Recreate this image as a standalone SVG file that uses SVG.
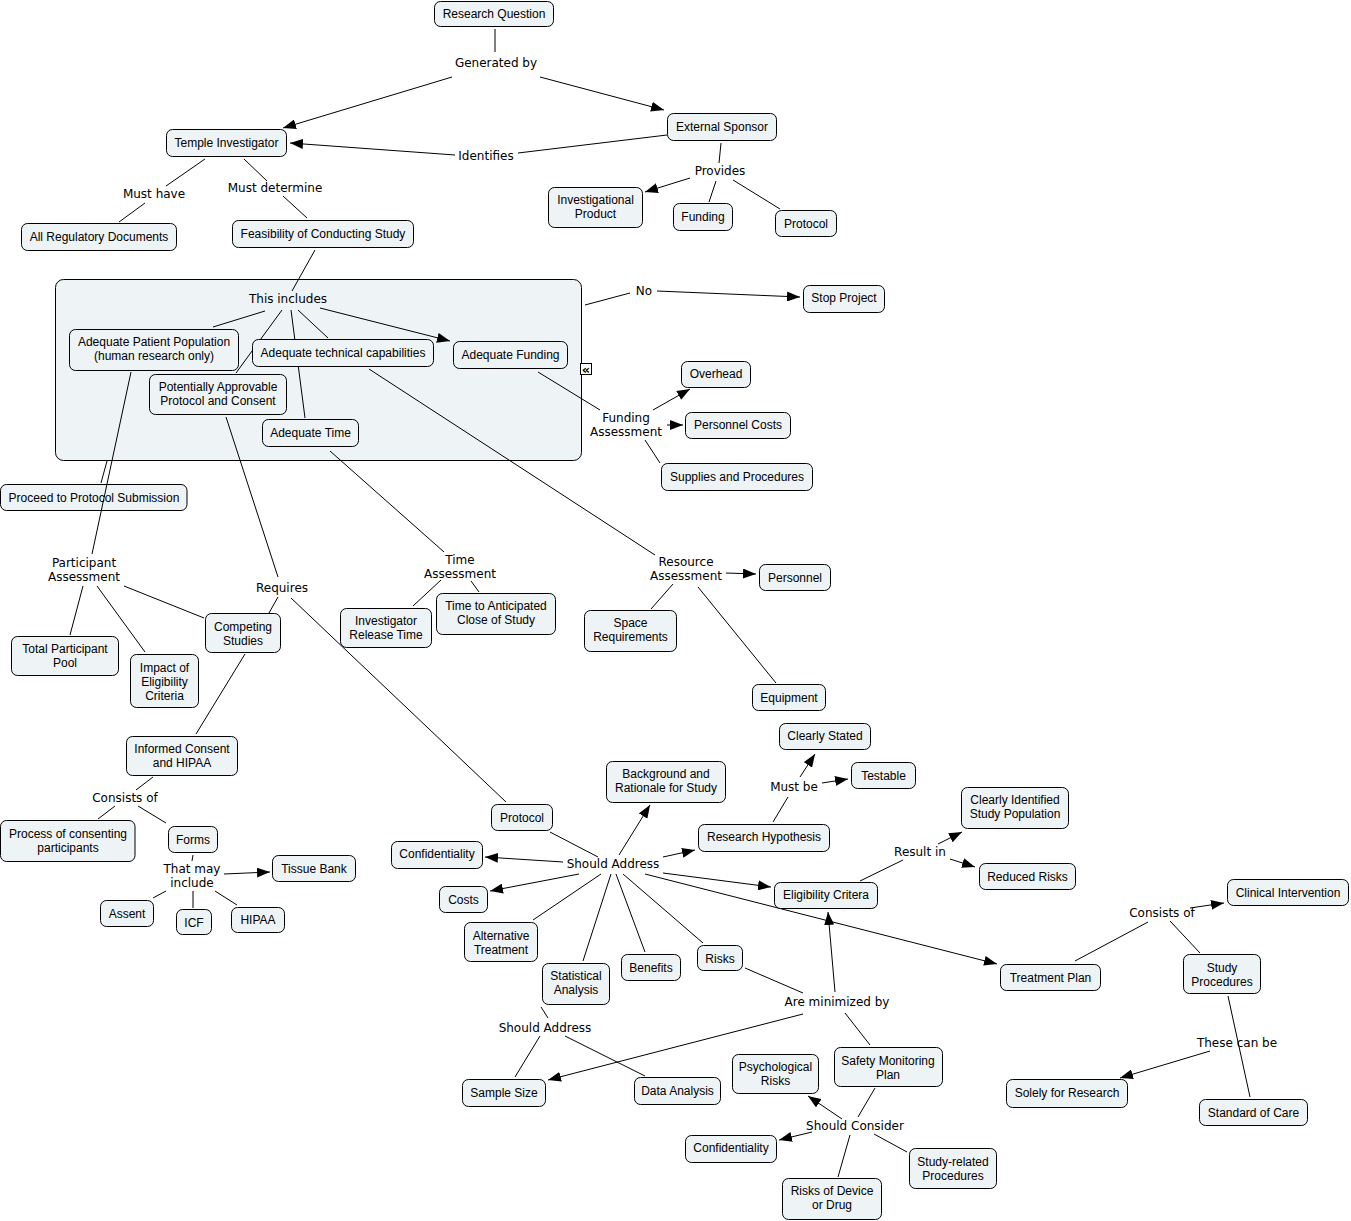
<svg xmlns="http://www.w3.org/2000/svg" width="1351" height="1221" viewBox="0 0 1351 1221">
<style>
.n rect{fill:#eef3f5;stroke:#000;stroke-width:1}
.n text{font-family:"Liberation Sans",Arial,sans-serif;font-size:12px;fill:#000;text-anchor:middle}
.lbl{font-family:"DejaVu Sans",Verdana,sans-serif;font-size:12px;fill:#000;text-anchor:middle}
.c line{stroke:#000;stroke-width:1}
.c line.a{marker-end:url(#ah)}
</style>
<defs>
<marker id="ah" markerUnits="userSpaceOnUse" markerWidth="14" markerHeight="10" refX="13" refY="5" orient="auto">
<path d="M0,0 L13,5 L0,10 z" fill="#000"/>
</marker>
</defs>
<rect width="1351" height="1221" fill="#fff"/>
<g id="container" class="n"><rect x="55.5" y="279.5" width="526" height="181" rx="8"/></g>
<g id="collapse-icon"><rect x="580.5" y="363.5" width="11" height="11" fill="#fff" stroke="#000"/><text x="586" y="373.5" font-family="DejaVu Sans,sans-serif" font-size="13" font-weight="bold" text-anchor="middle">«</text></g>

<g id="connectors" class="c">
<line x1="495" y1="29" x2="495" y2="52"/>
<line class="a" x1="452" y1="77" x2="283" y2="128"/>
<line class="a" x1="540" y1="77" x2="664" y2="110"/>
<line x1="667" y1="135" x2="518" y2="153"/>
<line class="a" x1="455" y1="155" x2="290" y2="143"/>
<line x1="205" y1="159" x2="166" y2="186"/>
<line x1="145" y1="203" x2="119" y2="222"/>
<line x1="244" y1="159" x2="267" y2="181"/>
<line x1="283" y1="196" x2="307" y2="218"/>
<line x1="315" y1="250" x2="292" y2="291"/>
<line x1="265" y1="311" x2="213" y2="327"/>
<line x1="282" y1="310" x2="236" y2="373"/>
<line x1="291" y1="310" x2="305" y2="418"/>
<line x1="298" y1="310" x2="328" y2="338"/>
<line class="a" x1="320" y1="308" x2="450" y2="341"/>
<line x1="585" y1="305" x2="630" y2="293"/>
<line class="a" x1="657" y1="291" x2="800" y2="297"/>
<line x1="538" y1="372" x2="600" y2="410"/>
<line class="a" x1="653" y1="410" x2="690" y2="389"/>
<line class="a" x1="667" y1="425" x2="683" y2="425"/>
<line x1="645" y1="440" x2="660" y2="463"/>
<line x1="369" y1="369" x2="655" y2="555"/>
<line class="a" x1="726" y1="573" x2="756" y2="574"/>
<line x1="673" y1="584" x2="651" y2="609"/>
<line x1="698" y1="587" x2="776" y2="683"/>
<line x1="330" y1="451" x2="444" y2="552"/>
<line x1="441" y1="580" x2="413" y2="606"/>
<line x1="471" y1="581" x2="479" y2="592"/>
<line x1="107" y1="461" x2="101" y2="483"/>
<line x1="226" y1="417" x2="278" y2="577"/>
<line x1="278" y1="597" x2="269" y2="613"/>
<line x1="291" y1="598" x2="506" y2="802"/>
<line x1="83" y1="586" x2="70" y2="635"/>
<line x1="97" y1="586" x2="145" y2="652"/>
<line x1="124" y1="586" x2="204" y2="618"/>
<line x1="245" y1="654" x2="196" y2="734"/>
<line x1="153" y1="777" x2="136" y2="790"/>
<line x1="115" y1="806" x2="98" y2="819"/>
<line x1="138" y1="806" x2="166" y2="823"/>
<line x1="193" y1="855" x2="192" y2="861"/>
<line class="a" x1="224" y1="874" x2="270" y2="872"/>
<line x1="166" y1="891" x2="153" y2="898"/>
<line x1="193" y1="891" x2="193" y2="908"/>
<line x1="215" y1="891" x2="237" y2="905"/>
<line x1="550" y1="832" x2="598" y2="857"/>
<line class="a" x1="619" y1="855" x2="650" y2="805"/>
<line class="a" x1="663" y1="857" x2="695" y2="850"/>
<line class="a" x1="563" y1="862" x2="485" y2="857"/>
<line class="a" x1="579" y1="874" x2="490" y2="891"/>
<line x1="601" y1="874" x2="533" y2="920"/>
<line x1="611" y1="874" x2="583" y2="961"/>
<line x1="616" y1="874" x2="645" y2="952"/>
<line x1="623" y1="874" x2="703" y2="943"/>
<line class="a" x1="663" y1="873" x2="771" y2="887"/>
<line class="a" x1="645" y1="874" x2="997" y2="964"/>
<line x1="773" y1="822" x2="788" y2="797"/>
<line class="a" x1="800" y1="777" x2="815" y2="754"/>
<line class="a" x1="822" y1="783" x2="848" y2="779"/>
<line x1="860" y1="881" x2="903" y2="860"/>
<line class="a" x1="938" y1="844" x2="962" y2="832"/>
<line class="a" x1="950" y1="859" x2="975" y2="867"/>
<line x1="745" y1="968" x2="803" y2="993"/>
<line class="a" x1="835" y1="992" x2="828" y2="912"/>
<line class="a" x1="803" y1="1014" x2="548" y2="1080"/>
<line x1="845" y1="1013" x2="870" y2="1045"/>
<line x1="541" y1="1007" x2="548" y2="1018"/>
<line x1="540" y1="1036" x2="515" y2="1077"/>
<line x1="565" y1="1036" x2="645" y2="1076"/>
<line x1="875" y1="1088" x2="858" y2="1117"/>
<line class="a" x1="842" y1="1119" x2="808" y2="1096"/>
<line class="a" x1="812" y1="1132" x2="779" y2="1140"/>
<line x1="850" y1="1135" x2="838" y2="1177"/>
<line x1="874" y1="1134" x2="907" y2="1152"/>
<line x1="1075" y1="961" x2="1148" y2="922"/>
<line class="a" x1="1190" y1="908" x2="1224" y2="903"/>
<line x1="1170" y1="921" x2="1200" y2="953"/>
<line x1="1228" y1="996" x2="1250" y2="1097"/>
<line class="a" x1="1210" y1="1051" x2="1120" y2="1078"/>
<line x1="721" y1="143" x2="719" y2="163"/>
<line class="a" x1="690" y1="178" x2="645" y2="192"/>
<line x1="716" y1="181" x2="709" y2="202"/>
<line x1="733" y1="180" x2="780" y2="209"/>
</g>

<g id="labels">
<text class="lbl" x="496" y="67">Generated by</text>
<text class="lbl" x="486" y="160">Identifies</text>
<text class="lbl" x="154" y="198">Must have</text>
<text class="lbl" x="275" y="192">Must determine</text>
<text class="lbl" x="720" y="175">Provides</text>
<text class="lbl" x="288" y="303">This includes</text>
<text class="lbl" x="644" y="295">No</text>
<text class="lbl" x="626" y="422">Funding<tspan x="626" dy="14">Assessment</tspan></text>
<text class="lbl" x="84" y="567">Participant<tspan x="84" dy="14">Assessment</tspan></text>
<text class="lbl" x="282" y="592">Requires</text>
<text class="lbl" x="460" y="564">Time<tspan x="460" dy="14">Assessment</tspan></text>
<text class="lbl" x="686" y="566">Resource<tspan x="686" dy="14">Assessment</tspan></text>
<text class="lbl" x="125" y="802">Consists of</text>
<text class="lbl" x="192" y="873">That may<tspan x="192" dy="14">include</tspan></text>
<text class="lbl" x="613" y="868">Should Address</text>
<text class="lbl" x="794" y="791">Must be</text>
<text class="lbl" x="920" y="856">Result in</text>
<text class="lbl" x="837" y="1006">Are minimized by</text>
<text class="lbl" x="1162" y="917">Consists of</text>
<text class="lbl" x="1237" y="1047">These can be</text>
<text class="lbl" x="545" y="1032">Should Address</text>
<text class="lbl" x="855" y="1130">Should Consider</text>
</g>

<g id="n-rq" class="n"><rect x="434.5" y="1.5" width="119" height="25" rx="6"/><text x="494" y="18">Research Question</text></g>
<g id="n-ti" class="n"><rect x="166.5" y="129.5" width="120" height="27" rx="6"/><text x="226.5" y="147">Temple Investigator</text></g>
<g id="n-es" class="n"><rect x="667.5" y="113.5" width="109" height="27" rx="6"/><text x="722" y="131">External Sponsor</text></g>
<g id="n-ard" class="n"><rect x="21.5" y="223.5" width="155" height="27" rx="6"/><text x="99" y="241">All Regulatory Documents</text></g>
<g id="n-fcs" class="n"><rect x="232.5" y="220.5" width="181" height="27" rx="6"/><text x="323" y="238">Feasibility of Conducting Study</text></g>
<g id="n-ip" class="n"><rect x="548.5" y="187.5" width="94" height="40" rx="6"/><text x="595.5" y="204">Investigational<tspan x="595.5" dy="14">Product</tspan></text></g>
<g id="n-fund" class="n"><rect x="673.5" y="203.5" width="59" height="27" rx="6"/><text x="703" y="221">Funding</text></g>
<g id="n-prot1" class="n"><rect x="775.5" y="210.5" width="61" height="26" rx="6"/><text x="806" y="228">Protocol</text></g>
<g id="n-app" class="n"><rect x="69.5" y="329.5" width="169" height="41" rx="6"/><text x="154" y="346">Adequate Patient Population<tspan x="154" dy="14">(human research only)</tspan></text></g>
<g id="n-atc" class="n"><rect x="252.5" y="339.5" width="181" height="27" rx="6"/><text x="343" y="357">Adequate technical capabilities</text></g>
<g id="n-af" class="n"><rect x="453.5" y="341.5" width="114" height="27" rx="6"/><text x="510.5" y="359">Adequate Funding</text></g>
<g id="n-papc" class="n"><rect x="149.5" y="374.5" width="137" height="40" rx="6"/><text x="218" y="391">Potentially Approvable<tspan x="218" dy="14">Protocol and Consent</tspan></text></g>
<g id="n-at" class="n"><rect x="262.5" y="419.5" width="96" height="27" rx="6"/><text x="310.5" y="437">Adequate Time</text></g>
<g id="n-stop" class="n"><rect x="803.5" y="285.5" width="81" height="27" rx="6"/><text x="844" y="302">Stop Project</text></g>
<g id="n-oh" class="n"><rect x="681.5" y="361.5" width="69" height="26" rx="6"/><text x="716" y="378">Overhead</text></g>
<g id="n-pc" class="n"><rect x="685.5" y="412.5" width="105" height="26" rx="6"/><text x="738" y="429">Personnel Costs</text></g>
<g id="n-sp" class="n"><rect x="661.5" y="463.5" width="151" height="27" rx="6"/><text x="737" y="481">Supplies and Procedures</text></g>
<g id="n-pps" class="n"><rect x="0.5" y="484.5" width="186.5" height="26" rx="6"/><text x="94" y="502">Proceed to Protocol Submission</text></g>
<g id="n-pers" class="n"><rect x="759.5" y="564.5" width="71" height="26" rx="6"/><text x="795" y="582">Personnel</text></g>
<g id="n-space" class="n"><rect x="584.5" y="610.5" width="92" height="41" rx="6"/><text x="630.5" y="627">Space<tspan x="630.5" dy="14">Requirements</tspan></text></g>
<g id="n-equip" class="n"><rect x="752.5" y="684.5" width="73" height="26" rx="6"/><text x="789" y="702">Equipment</text></g>
<g id="n-irt" class="n"><rect x="340.5" y="608.5" width="91" height="39" rx="6"/><text x="386" y="625">Investigator<tspan x="386" dy="14">Release Time</tspan></text></g>
<g id="n-tac" class="n"><rect x="436.5" y="593.5" width="119" height="41" rx="6"/><text x="496" y="610">Time to Anticipated<tspan x="496" dy="14">Close of Study</tspan></text></g>
<g id="n-tpp" class="n"><rect x="11.5" y="636.5" width="107" height="39" rx="6"/><text x="65" y="653">Total Participant<tspan x="65" dy="14">Pool</tspan></text></g>
<g id="n-iec" class="n"><rect x="130.5" y="654.5" width="68" height="53" rx="6"/><text x="164.5" y="672">Impact of<tspan x="164.5" dy="14">Eligibility</tspan><tspan x="164.5" dy="14">Criteria</tspan></text></g>
<g id="n-cs" class="n"><rect x="205.5" y="613.5" width="75" height="39" rx="6"/><text x="243" y="631">Competing<tspan x="243" dy="14">Studies</tspan></text></g>
<g id="n-ic" class="n"><rect x="126.5" y="736.5" width="111" height="39" rx="6"/><text x="182" y="753">Informed Consent<tspan x="182" dy="14">and HIPAA</tspan></text></g>
<g id="n-pcp" class="n"><rect x="0.5" y="820.5" width="134.5" height="41" rx="6"/><text x="68" y="838">Process of consenting<tspan x="68" dy="14">participants</tspan></text></g>
<g id="n-forms" class="n"><rect x="168.5" y="826.5" width="49" height="26" rx="6"/><text x="193" y="844">Forms</text></g>
<g id="n-tb" class="n"><rect x="272.5" y="855.5" width="83" height="26" rx="6"/><text x="314" y="873">Tissue Bank</text></g>
<g id="n-assent" class="n"><rect x="100.5" y="900.5" width="53" height="26" rx="6"/><text x="127" y="918">Assent</text></g>
<g id="n-icf" class="n"><rect x="176.5" y="909.5" width="35" height="25" rx="6"/><text x="194" y="927">ICF</text></g>
<g id="n-hipaa" class="n"><rect x="231.5" y="907.5" width="53" height="25" rx="6"/><text x="258" y="924">HIPAA</text></g>
<g id="n-prot2" class="n"><rect x="491.5" y="804.5" width="61" height="26" rx="6"/><text x="522" y="822">Protocol</text></g>
<g id="n-bg" class="n"><rect x="606.5" y="761.5" width="119" height="41" rx="6"/><text x="666" y="778">Background and<tspan x="666" dy="14">Rationale for Study</tspan></text></g>
<g id="n-clst" class="n"><rect x="779.5" y="723.5" width="91" height="26" rx="6"/><text x="825" y="740">Clearly Stated</text></g>
<g id="n-test" class="n"><rect x="851.5" y="762.5" width="64" height="26" rx="6"/><text x="883.5" y="780">Testable</text></g>
<g id="n-rh" class="n"><rect x="698.5" y="824.5" width="131" height="27" rx="6"/><text x="764" y="841">Research Hypothesis</text></g>
<g id="n-cisp" class="n"><rect x="961.5" y="787.5" width="107" height="41" rx="6"/><text x="1015" y="804">Clearly Identified<tspan x="1015" dy="14">Study Population</tspan></text></g>
<g id="n-rr" class="n"><rect x="979.5" y="863.5" width="96" height="26" rx="6"/><text x="1027.5" y="881">Reduced Risks</text></g>
<g id="n-conf1" class="n"><rect x="391.5" y="841.5" width="91" height="27" rx="6"/><text x="437" y="858">Confidentiality</text></g>
<g id="n-costs" class="n"><rect x="439.5" y="886.5" width="48" height="26" rx="6"/><text x="463.5" y="904">Costs</text></g>
<g id="n-ec" class="n"><rect x="774.5" y="882.5" width="103" height="26" rx="6"/><text x="826" y="899">Eligibility Critera</text></g>
<g id="n-alt" class="n"><rect x="464.5" y="922.5" width="73" height="39" rx="6"/><text x="501" y="940">Alternative<tspan x="501" dy="14">Treatment</tspan></text></g>
<g id="n-stat" class="n"><rect x="542.5" y="963.5" width="67" height="41" rx="6"/><text x="576" y="980">Statistical<tspan x="576" dy="14">Analysis</tspan></text></g>
<g id="n-ben" class="n"><rect x="621.5" y="954.5" width="59" height="26" rx="6"/><text x="651" y="972">Benefits</text></g>
<g id="n-risks" class="n"><rect x="697.5" y="945.5" width="45" height="25" rx="6"/><text x="720" y="963">Risks</text></g>
<g id="n-tp" class="n"><rect x="1000.5" y="964.5" width="100" height="26" rx="6"/><text x="1050.5" y="982">Treatment Plan</text></g>
<g id="n-ci" class="n"><rect x="1227.5" y="879.5" width="121" height="26" rx="6"/><text x="1288" y="897">Clinical Intervention</text></g>
<g id="n-sproc" class="n"><rect x="1183.5" y="954.5" width="77" height="39" rx="6"/><text x="1222" y="972">Study<tspan x="1222" dy="14">Procedures</tspan></text></g>
<g id="n-sfr" class="n"><rect x="1006.5" y="1079.5" width="121" height="28" rx="6"/><text x="1067" y="1097">Solely for Research</text></g>
<g id="n-soc" class="n"><rect x="1199.5" y="1099.5" width="108" height="26" rx="6"/><text x="1253.5" y="1117">Standard of Care</text></g>
<g id="n-ss" class="n"><rect x="462.5" y="1079.5" width="83" height="27" rx="6"/><text x="504" y="1097">Sample Size</text></g>
<g id="n-da" class="n"><rect x="634.5" y="1077.5" width="86" height="27" rx="6"/><text x="677.5" y="1095">Data Analysis</text></g>
<g id="n-psy" class="n"><rect x="732.5" y="1054.5" width="86" height="39" rx="6"/><text x="775.5" y="1071">Psychological<tspan x="775.5" dy="14">Risks</tspan></text></g>
<g id="n-smp" class="n"><rect x="834.5" y="1047.5" width="108" height="39" rx="6"/><text x="888" y="1065">Safety Monitoring<tspan x="888" dy="14">Plan</tspan></text></g>
<g id="n-conf2" class="n"><rect x="685.5" y="1135.5" width="91" height="27" rx="6"/><text x="731" y="1152">Confidentiality</text></g>
<g id="n-rdd" class="n"><rect x="782.5" y="1178.5" width="99" height="41" rx="6"/><text x="832" y="1195">Risks of Device<tspan x="832" dy="14">or Drug</tspan></text></g>
<g id="n-srp" class="n"><rect x="909.5" y="1148.5" width="87" height="40" rx="6"/><text x="953" y="1166">Study-related<tspan x="953" dy="14">Procedures</tspan></text></g>

<g id="connectors-over" class="c">
<line x1="131" y1="372" x2="92" y2="554"/>
</g>
</svg>
